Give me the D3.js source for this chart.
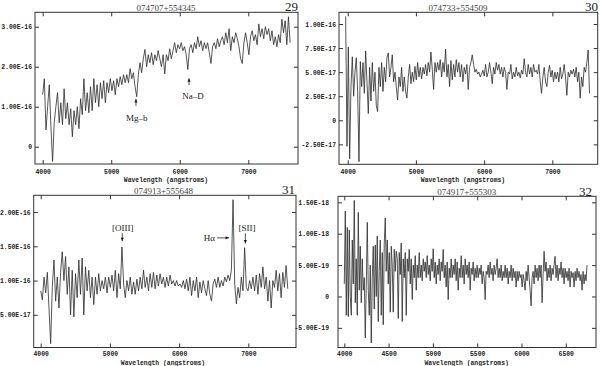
<!DOCTYPE html>
<html><head><meta charset="utf-8">
<script src="https://cdn.jsdelivr.net/npm/d3@7"></script>
<style>body{margin:0;background:#fff}svg{display:block}</style>
</head><body>
<svg id="c" width="600" height="366"></svg>
<script>
// ---------- DATA ----------
// Panel 29
const p1Title = "074707+554345", p1Num = "29";
const p1WaveRange = [4000, 7610];      // first / last sample wavelength (angstroms)
const p1Unit = 1e-16;
const p1Flux = [1.3,1.7,0.42,1.0,1.55,0.5,-0.37,0.6,1.0,1.35,0.6,1.1,0.55,1.45,0.7,1.1,0.55,0.95,0.25,0.9,0.55,1.0,0.45,1.2,0.8,1.7,0.9,1.35,0.85,1.5,0.9,1.7,1.1,1.55,1.0,1.6,1.2,1.65,1.1,1.6,1.35,1.7,1.4,1.65,1.3,1.7,1.5,1.75,1.55,1.8,1.6,1.8,1.6,1.95,1.7,1.85,1.5,1.25,1.8,2.1,1.85,2.2,2.43,2.0,2.3,2.1,2.35,2.05,2.3,2.15,2.4,2.2,2.0,2.3,1.82,2.3,2.15,2.45,2.2,2.4,2.6,2.35,2.55,2.45,2.6,2.4,2.5,2.3,1.93,2.45,2.55,2.35,2.6,2.45,2.75,2.5,2.65,2.4,2.6,2.45,2.6,2.35,2.08,2.5,2.6,2.45,2.7,2.5,2.65,2.75,2.55,2.85,2.6,2.95,2.4,2.75,2.6,2.85,2.7,2.5,2.2,2.08,2.6,2.85,2.6,2.3,2.75,2.9,2.65,2.8,2.55,3.07,2.75,2.95,2.7,3.0,2.8,2.95,2.65,2.9,2.55,2.75,2.5,2.8,2.6,3.19,2.85,3.15,2.55,3.25,2.6];
const p1XTicks = [4000, 5000, 6000, 7000];
const p1YTicks = [0, 1e-16, 2e-16, 3e-16];
const p1Notes = [
  {text: "Mg\u2013b", w: 5361, from: 1.02e-16, to: 1.19e-16, tw: 5372, tf: 0.64e-16, dir: "v"},
  {text: "Na\u2013D", w: 6135, from: 1.54e-16, to: 1.71e-16, tw: 6193, tf: 1.19e-16, dir: "v"}
];

// Panel 30
const p2Title = "074733+554509", p2Num = "30";
const p2WaveRange = [3970, 7545];
const p2Unit = 1e-17;
const p2Flux = [10.8,-2.7,7.6,-4.0,3.5,6.6,2.5,5.0,6.5,3.0,-4.3,6.1,3.5,6.0,2.8,7.2,4.0,0.7,5.5,2.0,6.0,3.0,5.0,1.5,0.9,5.5,3.5,6.0,3.0,5.5,4.0,6.5,7.0,4.5,5.5,6.8,4.0,5.0,3.5,2.1,4.5,3.5,5.5,3.0,4.5,3.0,2.3,4.5,5.8,3.8,5.0,4.0,5.6,4.2,6.0,4.5,5.5,4.3,5.5,4.8,5.8,4.6,6.0,5.0,7.1,5.3,3.2,6.0,5.0,6.0,5.2,6.3,4.5,6.0,5.0,7.4,4.5,5.8,3.5,6.2,4.2,5.8,4.5,6.3,5.0,6.0,4.5,5.8,4.0,5.5,4.8,5.8,3.2,5.5,6.0,6.8,5.8,5.0,5.3,4.8,5.0,4.5,4.8,5.2,4.6,5.8,4.5,5.0,6.0,5.0,3.8,5.5,4.8,6.0,5.2,5.8,4.8,5.5,4.5,5.5,5.0,3.2,5.0,4.8,5.8,4.3,5.0,4.5,5.5,4.6,5.0,4.4,5.2,4.8,6.4,5.0,4.5,5.8,4.8,5.5,4.5,5.8,5.0,5.2,4.8,5.8,4.0,2.8,4.5,5.5,4.0,3.5,5.0,5.7,4.5,5.2,4.0,5.0,4.3,5.0,4.0,5.5,4.3,4.8,5.8,4.5,2.6,5.0,4.5,5.2,4.8,5.3,4.5,5.5,4.0,5.0,2.3,4.5,3.5,5.5,5.0,6.0,7.3,2.8];
const p2XTicks = [4000, 5000, 6000, 7000];
const p2YTicks = [-2.5e-17, 0, 2.5e-17, 5e-17, 7.5e-17, 1e-16];

// Panel 31
const p3Title = "074913+555648", p3Num = "31";
const p3WaveRange = [4000, 7570];
const p3Unit = 1e-16;
const p3Flux = [0.85,0.72,1.05,0.82,1.12,0.6,0.08,0.9,1.3,0.7,1.05,0.6,1.12,1.42,1.0,1.35,0.8,1.2,0.5,1.15,0.47,1.1,0.75,1.3,0.8,1.33,0.5,1.2,0.85,1.15,0.75,1.05,0.65,1.05,0.8,1.1,0.85,1.0,0.88,1.05,0.82,1.05,0.9,1.08,0.85,1.15,0.75,1.1,0.88,1.49,0.95,0.75,1.0,0.85,1.05,0.8,0.98,0.8,1.02,0.85,1.05,0.88,1.15,0.9,1.05,0.85,1.1,0.9,1.12,0.88,1.08,0.92,1.1,0.95,1.05,0.9,1.05,0.92,1.08,0.95,1.0,0.92,1.0,0.92,0.95,0.9,1.0,0.88,1.02,0.85,1.05,0.78,1.0,0.85,1.05,0.75,0.98,0.82,1.0,0.88,0.78,1.0,0.8,0.7,0.95,1.02,0.9,1.05,0.9,1.0,0.92,1.05,0.98,1.08,1.0,1.15,2.18,0.95,0.66,0.9,0.75,1.05,0.85,1.48,0.9,0.85,1.0,0.88,1.05,0.85,1.08,0.8,1.1,0.9,1.2,0.88,1.05,0.7,1.0,0.6,1.0,0.9,1.15,0.85,1.1,0.75,1.12,0.9,1.22,0.88];
const p3XTicks = [4000, 5000, 6000, 7000];
const p3YTicks = [5e-17, 1e-16, 1.5e-16, 2e-16];
const p3Notes = [
  {text: "[OIII]", w: 5179, from: 1.69e-16, to: 1.575e-16, tw: 5185, tf: 1.728e-16, dir: "v"},
  {text: "H\u03b1", w: 6549, w2: 6721, f: 1.623e-16, tw: 6519, tf: 1.582e-16, dir: "h"},
  {text: "[SII]", w: 6957, from: 1.69e-16, to: 1.54e-16, tw: 6982, tf: 1.72e-16, dir: "v"}
];

// Panel 32
const p4Title = "074917+555303", p4Num = "32";
const p4WaveRange = [4000, 6740];
const p4Unit = 1e-19;
const p4Flux = [2,13.6,-3,11,-3.2,10.6,0,-3,9,2,15.3,-1,6,-3,13.4,1,8,-1,6,1,3,-6.6,2,11.8,1,-3,5,-7.4,3,8,-2,8.2,0,9.6,-4,4,9,-3,7,-4.5,8.5,12.5,4,9,2,7,-2.5,8,5,-2.5,7.5,4,7.2,6,-3.5,7,3.5,8.5,-4,6,3,7,-3,6,4,7.5,2,6,-0.5,5,3,6.5,1,5,3,7,3,5,2.5,6,4,5.5,3,6.5,3.5,5,2.5,6,4,7.6,3,5.5,2,5,3.5,6,2.5,5.5,4,7.5,3,5,1.5,5.5,-0.5,4.5,3,6,3,5,3.5,6,2.5,5.5,1,4.5,3,6.5,3,5,2,6,3.5,5,3,5.5,1,4.5,3.5,5.5,2.5,4.5,3,5,3,4.5,3.5,5,2,4,3,-0.5,4,3.5,5,3,5.5,3.5,4.5,2.5,5,3.5,4.5,6,3,4.5,3,5,2.5,4,3,5,3,4.5,2,4,3,5,2.5,4.5,3,4,1.5,4,2.5,4,3,3.5,1.5,3.5,2.5,1,4,2.5,5,3,1,-1.5,3,4,2,5,3,4.5,2.5,5,3,5,-1,3.5,7.2,4,5.5,2.5,4.5,3,5,2.5,4.5,3.5,5,6.4,3,5,2.5,4.5,3.5,5.5,3,4.5,2,4.5,3,4,2.5,4.5,1.5,4,3,3.8,1.5,4,2.5,4.5,3,4,2.5,3.5,1,4,2,3.5,2.5,5];
const p4XTicks = [4000, 4500, 5000, 5500, 6000, 6500];
const p4YTicks = [-5e-19, 0, 5e-19, 1e-18, 1.5e-18];

const xLabel = "Wavelength (angstroms)";

// ---------- DRAW ----------
const svg = d3.select("#c");
const fmtY = v => v === 0 ? "0" : v.toExponential(2).toUpperCase().replace("E+", "E");
const MONO = "'Liberation Mono', 'DejaVu Sans Mono', monospace";
const SERIF = "'Liberation Serif', 'DejaVu Serif', serif";

function panel(c) {
  const g = svg.append("g");
  const x = d3.scaleLinear().domain(c.xd).range([c.L, c.R]);
  const y = d3.scaleLinear().domain(c.yd).range([c.B, c.T]);
  const id = "clip" + c.num;
  svg.append("clipPath").attr("id", id).append("rect")
    .attr("x", c.L).attr("y", c.T).attr("width", c.R - c.L).attr("height", c.B - c.T);

  const n = c.flux.length;
  const dw = (c.wr[1] - c.wr[0]) / (n - 1);
  const pts = c.flux.map((f, i) => [c.wr[0] + i * dw, f * c.unit]);
  g.append("path")
    .attr("clip-path", `url(#${id})`)
    .attr("d", d3.line().x(d => x(d[0])).y(d => y(d[1]))(pts))
    .attr("fill", "none").attr("stroke", "#2b2b2b").attr("stroke-width", 0.8)
    .attr("stroke-linejoin", "miter");

  const styleAxis = (sel) => {
    sel.select(".domain").remove();
    sel.selectAll(".tick line").attr("stroke", "#333").attr("stroke-width", 1);
    sel.selectAll(".tick text").attr("font-family", MONO).attr("font-weight", "bold")
      .attr("font-size", 6.4).attr("fill", "#222");
  };
  g.append("g").attr("transform", `translate(0,${c.B})`)
    .call(d3.axisBottom(x).tickValues(c.xt).tickSize(-4).tickPadding(c.xPad).tickFormat(d3.format("d")))
    .call(styleAxis);
  g.append("g").attr("transform", `translate(0,${c.T})`)
    .call(d3.axisTop(x).tickValues(c.xt).tickSize(-4).tickFormat(""))
    .call(styleAxis);
  g.append("g").attr("transform", `translate(${c.L},0)`)
    .call(d3.axisLeft(y).tickValues(c.yt).tickSize(-4).tickPadding(c.yPad).tickFormat(fmtY))
    .call(styleAxis);
  g.append("g").attr("transform", `translate(${c.R},0)`)
    .call(d3.axisRight(y).tickValues(c.yt).tickSize(-4).tickFormat(""))
    .call(styleAxis);

  g.append("rect").attr("x", c.L).attr("y", c.T).attr("width", c.R - c.L).attr("height", c.B - c.T)
    .attr("fill", "none").attr("stroke", "#333").attr("stroke-width", 1);

  g.append("text").attr("x", c.tx).attr("y", c.ty).attr("text-anchor", "middle")
    .attr("font-family", SERIF).attr("font-size", 9).attr("fill", "#444").text(c.title);
  g.append("text").attr("x", c.nx).attr("y", c.ny).attr("text-anchor", "end")
    .attr("font-family", SERIF).attr("font-size", 13).attr("fill", "#222").text(c.num);
  g.append("text").attr("x", c.lx).attr("y", c.ly).attr("text-anchor", "middle")
    .attr("font-family", MONO).attr("font-weight", "bold").attr("font-size", 6.4)
    .attr("fill", "#222").text(xLabel);

  (c.notes || []).forEach(a => {
    if (a.dir === "v") {
      const xx = x(a.w), y1 = y(a.from), y2 = y(a.to);
      const s = y2 < y1 ? 1 : -1; // arrow points toward y2
      g.append("line").attr("x1", xx).attr("x2", xx).attr("y1", y1).attr("y2", y2)
        .attr("stroke", "#222").attr("stroke-width", 0.8);
      g.append("path").attr("d", `M${xx},${y2} L${xx - 1.6},${y2 + s * 3.5} L${xx + 1.6},${y2 + s * 3.5} Z`)
        .attr("fill", "#222");
      g.append("text").attr("x", x(a.tw)).attr("y", y(a.tf)).attr("text-anchor", "middle")
        .attr("font-family", SERIF).attr("font-size", 9).attr("fill", "#222").text(a.text);
    } else {
      const x1 = x(a.w), x2 = x(a.w2), yy = y(a.f);
      g.append("line").attr("x1", x1).attr("x2", x2).attr("y1", yy).attr("y2", yy)
        .attr("stroke", "#222").attr("stroke-width", 0.8);
      g.append("path").attr("d", `M${x2},${yy} L${x2 - 3.5},${yy - 1.6} L${x2 - 3.5},${yy + 1.6} Z`)
        .attr("fill", "#222");
      g.append("text").attr("x", x(a.tw)).attr("y", y(a.tf)).attr("text-anchor", "end")
        .attr("font-family", SERIF).attr("font-size", 9).attr("fill", "#222").text(a.text);
    }
  });
}

panel({num: p1Num, title: p1Title, flux: p1Flux, wr: p1WaveRange, unit: p1Unit, xt: p1XTicks, yt: p1YTicks, notes: p1Notes,
  L: 35, R: 298, T: 12.3, B: 164, xd: [3888, 7725], yd: [-0.4325e-16, 3.36e-16], yPad: 3, xPad: 5,
  tx: 166, ty: 10.5, nx: 298, ny: 10.8, lx: 166, ly: 182});
panel({num: p2Num, title: p2Title, flux: p2Flux, wr: p2WaveRange, unit: p2Unit, xt: p2XTicks, yt: p2YTicks,
  L: 339, R: 597.7, T: 12.3, B: 164.3, xd: [3872.5, 7665], yd: [-0.457e-16, 1.1215e-16], yPad: 3, xPad: 5,
  tx: 458, ty: 10.5, nx: 598, ny: 10.8, lx: 463, ly: 182});
panel({num: p3Num, title: p3Title, flux: p3Flux, wr: p3WaveRange, unit: p3Unit, xt: p3XTicks, yt: p3YTicks, notes: p3Notes,
  L: 33.7, R: 296, T: 195.3, B: 347.5, xd: [3898.8, 7689], yd: [0.0234e-16, 2.244e-16], yPad: 3, xPad: 4,
  tx: 163.5, ty: 193.5, nx: 295, ny: 193.5, lx: 163, ly: 364.5});
panel({num: p4Num, title: p4Title, flux: p4Flux, wr: p4WaveRange, unit: p4Unit, xt: p4XTicks, yt: p4YTicks,
  L: 338, R: 596, T: 196.3, B: 347.5, xd: [3929, 6841], yd: [-8.13e-19, 1.596e-18], yPad: 9, xPad: 4,
  tx: 466.7, ty: 194.5, nx: 592, ny: 195.5, lx: 466.7, ly: 364.5});
</script>
</body></html>
